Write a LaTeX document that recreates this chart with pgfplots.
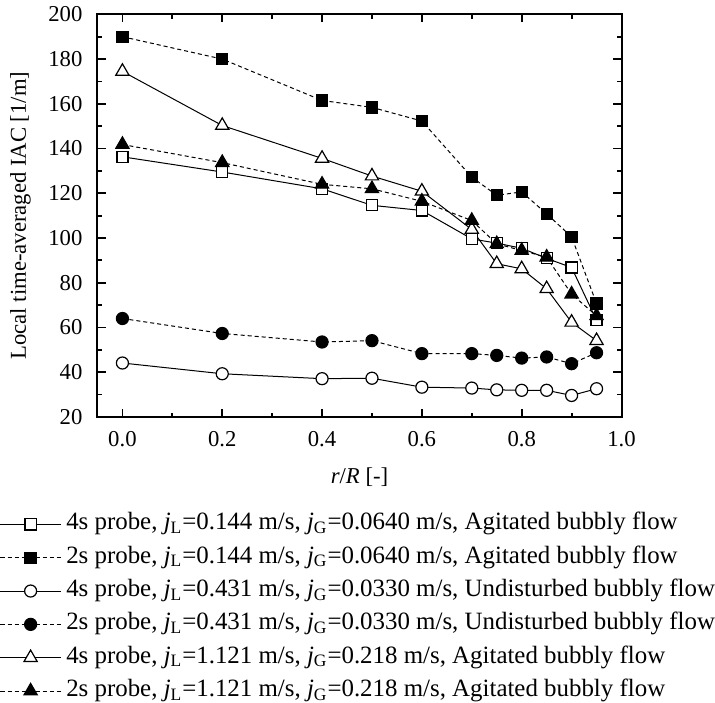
\documentclass[border=0pt]{standalone}
\usepackage{fontspec}
\setmainfont{Liberation Serif}
\usepackage{pgfplots}
\pgfplotsset{compat=1.18}
\pgfplotstableread{
x     osq    fsq    oci   fci   otr    ftr
0.00  136.3  190.0  44.1  64.0  174.5  141.8
0.20  129.5  180.0  39.3  57.3  150.3  133.7
0.40  122.0  161.5  37.1  53.5  135.6  124.0
0.50  114.6  158.4  37.3  54.1  127.7  122.0
0.60  112.3  152.3  33.3  48.3  120.9  116.4
0.70  99.6   127.2  32.9  48.3  103.8  107.8
0.75  97.7   119.1  32.1  47.5  88.5   97.4
0.80  95.4   120.6  31.9  46.3  86.2   94.4
0.85  90.9   110.8  31.9  46.8  77.3   91.4
0.90  86.8   100.5  29.6  43.8  62.3   74.9
0.95  63.2   70.7   32.6  48.7  54.1   65.2
}\datatable
\pgfplotsset{
  legimg/.style={legend image code/.code={\draw[mark repeat=2,mark phase=2] plot coordinates {(0pt,0pt) (15pt,0pt) (30pt,0pt)};}},
  solidline/.style={black, line width=0.5pt, solid, legimg},
  dashline/.style={black, line width=0.5pt, dash pattern=on 2pt off 1.5pt, legimg},
}
\begin{document}
\begin{tikzpicture}
\begin{axis}[
  scale only axis, width=261pt, height=200.5pt,
  xmin=-0.05, xmax=1.0, ymin=20, ymax=200,
  xtick={0,0.2,0.4,0.6,0.8,1.0},
  minor xtick={0.1,0.3,0.5,0.7,0.9},
  ytick={20,40,60,80,100,120,140,160,180,200},
  minor ytick={30,50,70,90,110,130,150,170,190},
  tick align=inside,
  major tick length=4pt, minor tick length=2.2pt,
  every tick/.style={line width=0.9pt, black},
  axis line style={line width=1pt},
  /pgf/number format/assume math mode=true,
  tick label style={font=\fontsize{11.3pt}{13pt}\selectfont},
  xticklabel style={/pgf/number format/fixed, /pgf/number format/fixed zerofill, /pgf/number format/precision=1, yshift=-3.5pt},
  yticklabel style={xshift=-4pt},
  xlabel={\textit{r}/\textit{R} [-]},
  every axis x label/.style={at={(axis description cs:0.5,-0.15)}, anchor=center, font=\fontsize{11.3pt}{13pt}\selectfont},
  ylabel={Local time-averaged IAC [1/m]},
  every axis y label/.style={at={(axis description cs:-0.147,0.5)}, anchor=center, rotate=90, font=\fontsize{11.3pt}{13pt}\selectfont},
  legend cell align=left,
  legend style={draw=none, fill=none, inner sep=0pt, outer sep=0pt,
    at={(axis description cs:-0.186,-0.2395)}, anchor=north west,
    font=\fontsize{12.4pt}{13pt}\selectfont, row sep=5.6pt,
    nodes={inner sep=0pt, text height=8.2pt, text depth=2.8pt}},
  /tikz/every even column/.append style={column sep=3.5pt},
  /tikz/every odd column/.append style={column sep=2.5pt},
]
\addplot[solidline, mark=square*, mark options={solid, fill=white, draw=black, line width=0.6pt}, mark size=2.75pt] table[x=x,y=osq] {\datatable};
\addlegendentry{4s probe, \textit{j}\textsubscript{L}=0.144 m/s, \textit{j}\textsubscript{G}=0.0640 m/s, Agitated bubbly flow}
\addplot[dashline, mark=square*, mark options={solid, fill=black, draw=black, line width=0.6pt}, mark size=2.75pt] table[x=x,y=fsq] {\datatable};
\addlegendentry{2s probe, \textit{j}\textsubscript{L}=0.144 m/s, \textit{j}\textsubscript{G}=0.0640 m/s, Agitated bubbly flow}
\addplot[solidline, mark=*, mark options={solid, fill=white, draw=black, line width=0.6pt}, mark size=3pt] table[x=x,y=oci] {\datatable};
\addlegendentry{4s probe, \textit{j}\textsubscript{L}=0.431 m/s, \textit{j}\textsubscript{G}=0.0330 m/s, Undisturbed bubbly flow}
\addplot[dashline, mark=*, mark options={solid, fill=black, draw=black, line width=0.6pt}, mark size=3pt] table[x=x,y=fci] {\datatable};
\addlegendentry{2s probe, \textit{j}\textsubscript{L}=0.431 m/s, \textit{j}\textsubscript{G}=0.0330 m/s, Undisturbed bubbly flow}
\addplot[solidline, mark=triangle*, mark options={solid, fill=white, draw=black, line width=0.6pt}, mark size=3.8pt] table[x=x,y=otr] {\datatable};
\addlegendentry{4s probe, \textit{j}\textsubscript{L}=1.121 m/s, \textit{j}\textsubscript{G}=0.218 m/s, Agitated bubbly flow}
\addplot[dashline, mark=triangle*, mark options={solid, fill=black, draw=black, line width=0.6pt}, mark size=3.8pt] table[x=x,y=ftr] {\datatable};
\addlegendentry{2s probe, \textit{j}\textsubscript{L}=1.121 m/s, \textit{j}\textsubscript{G}=0.218 m/s, Agitated bubbly flow}
\end{axis}
\end{tikzpicture}
\end{document}
